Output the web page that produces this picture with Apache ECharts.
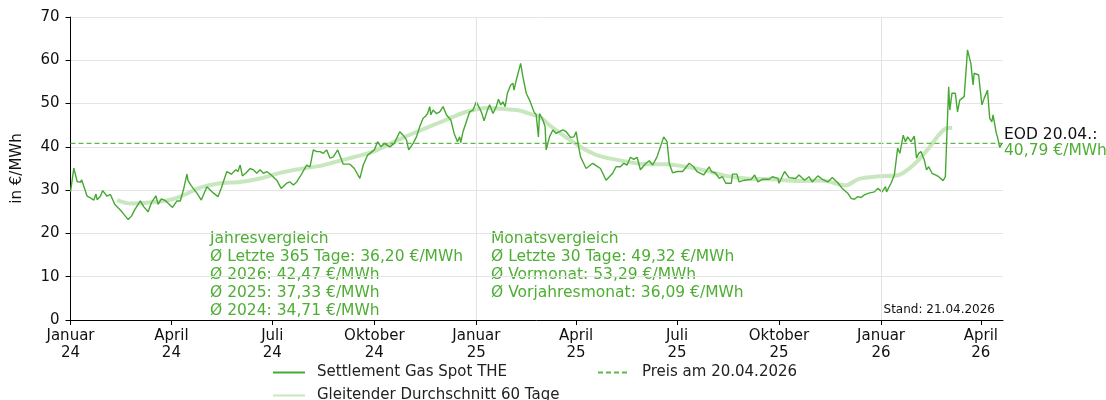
<!DOCTYPE html>
<html lang="de">
<head>
  <meta charset="utf-8">
</head>
<body style="margin: 0">
  <div id="container" style="width: 1106px; height: 400px"></div>
  <script src="https://cdn.jsdelivr.net/npm/echarts@6/dist/echarts.min.js"></script>
  <script type="text/javascript">
    // Settlement Gas Spot THE
    var priceDates = [
      '2024-01-01', '2024-01-04', '2024-01-07', '2024-01-10', '2024-01-11', '2024-01-13', '2024-01-16', '2024-01-19',
      '2024-01-22', '2024-01-24', '2024-01-25', '2024-01-28', '2024-01-30', '2024-02-03', '2024-02-06', '2024-02-10',
      '2024-02-16', '2024-02-22', '2024-02-25', '2024-02-28', '2024-03-04', '2024-03-07', '2024-03-11', '2024-03-14',
      '2024-03-18', '2024-03-20', '2024-03-23', '2024-03-27', '2024-04-02', '2024-04-06', '2024-04-09', '2024-04-12',
      '2024-04-15', '2024-04-16', '2024-04-19', '2024-04-24', '2024-04-28', '2024-05-03', '2024-05-09', '2024-05-13',
      '2024-05-16', '2024-05-21', '2024-05-25', '2024-05-29', '2024-05-31', '2024-06-02', '2024-06-04', '2024-06-07',
      '2024-06-11', '2024-06-14', '2024-06-17', '2024-06-20', '2024-06-23', '2024-06-26', '2024-06-30', '2024-07-05',
      '2024-07-09', '2024-07-14', '2024-07-17', '2024-07-20', '2024-07-23', '2024-07-26', '2024-08-01', '2024-08-04',
      '2024-08-07', '2024-08-10', '2024-08-13', '2024-08-16', '2024-08-19', '2024-08-22', '2024-08-25', '2024-08-29',
      '2024-09-03', '2024-09-09', '2024-09-13', '2024-09-18', '2024-09-21', '2024-09-25', '2024-10-01', '2024-10-04',
      '2024-10-07', '2024-10-10', '2024-10-15', '2024-10-19', '2024-10-24', '2024-10-27', '2024-10-30', '2024-11-01',
      '2024-11-05', '2024-11-08', '2024-11-11', '2024-11-14', '2024-11-16', '2024-11-18', '2024-11-20', '2024-11-21',
      '2024-11-23', '2024-11-26', '2024-11-29', '2024-12-02', '2024-12-05', '2024-12-09', '2024-12-12', '2024-12-15',
      '2024-12-17', '2024-12-18', '2024-12-20', '2024-12-23', '2024-12-26', '2024-12-29', '2025-01-01', '2025-01-04',
      '2025-01-06', '2025-01-08', '2025-01-11', '2025-01-13', '2025-01-16', '2025-01-19', '2025-01-21', '2025-01-23',
      '2025-01-25', '2025-01-27', '2025-01-29', '2025-02-01', '2025-02-03', '2025-02-04', '2025-02-06', '2025-02-10',
      '2025-02-12', '2025-02-15', '2025-02-18', '2025-02-19', '2025-02-22', '2025-02-24', '2025-02-26', '2025-02-27',
      '2025-03-02', '2025-03-04', '2025-03-05', '2025-03-08', '2025-03-11', '2025-03-14', '2025-03-17', '2025-03-20',
      '2025-03-23', '2025-03-27', '2025-03-30', '2025-04-01', '2025-04-03', '2025-04-05', '2025-04-10', '2025-04-16',
      '2025-04-20', '2025-04-23', '2025-04-28', '2025-05-04', '2025-05-07', '2025-05-11', '2025-05-14', '2025-05-17',
      '2025-05-20', '2025-05-23', '2025-05-26', '2025-05-29', '2025-06-03', '2025-06-06', '2025-06-09', '2025-06-13',
      '2025-06-16', '2025-06-19', '2025-06-22', '2025-06-24', '2025-06-27', '2025-07-01', '2025-07-06', '2025-07-12',
      '2025-07-16', '2025-07-19', '2025-07-25', '2025-07-30', '2025-08-01', '2025-08-05', '2025-08-08', '2025-08-11',
      '2025-08-14', '2025-08-19', '2025-08-20', '2025-08-24', '2025-08-26', '2025-08-31', '2025-09-06', '2025-09-09',
      '2025-09-12', '2025-09-16', '2025-09-22', '2025-09-25', '2025-09-30', '2025-10-01', '2025-10-06', '2025-10-10',
      '2025-10-16', '2025-10-19', '2025-10-24', '2025-10-28', '2025-10-31', '2025-11-05', '2025-11-09', '2025-11-14',
      '2025-11-18', '2025-11-23', '2025-11-27', '2025-12-02', '2025-12-05', '2025-12-08', '2025-12-11', '2025-12-14',
      '2025-12-17', '2025-12-21', '2025-12-26', '2025-12-29', '2026-01-02', '2026-01-05', '2026-01-06', '2026-01-10',
      '2026-01-13', '2026-01-16', '2026-01-18', '2026-01-21', '2026-01-23', '2026-01-25', '2026-01-28', '2026-01-31',
      '2026-02-02', '2026-02-04', '2026-02-06', '2026-02-09', '2026-02-11', '2026-02-13', '2026-02-16', '2026-02-19',
      '2026-02-22', '2026-02-26', '2026-02-28', '2026-03-03', '2026-03-04', '2026-03-06', '2026-03-09', '2026-03-11',
      '2026-03-13', '2026-03-17', '2026-03-20', '2026-03-23', '2026-03-25', '2026-03-26', '2026-03-30', '2026-04-02',
      '2026-04-04', '2026-04-07', '2026-04-09', '2026-04-11', '2026-04-12', '2026-04-15', '2026-04-16', '2026-04-18',
      '2026-04-20'
    ];
    var priceValues = [
      29.6, 35.1, 32.0, 31.8, 32.4, 30.9, 28.6, 28.2,
      27.7, 29.1, 27.8, 28.6, 29.9, 28.6, 29.0, 26.7,
      25.1, 23.2, 24.0, 25.5, 27.5, 26.2, 25.0, 27.1,
      28.7, 26.7, 28.0, 27.5, 26.0, 27.5, 27.5, 30.2,
      33.7, 32.2, 31.0, 29.3, 27.7, 30.8, 29.3, 28.5,
      30.5, 34.3, 33.7, 34.7, 34.3, 35.8, 33.3, 33.9,
      35.0, 34.7, 33.9, 34.7, 33.9, 34.3, 33.5, 32.3,
      30.4, 31.6, 31.9, 31.2, 31.9, 33.1, 35.8, 35.4,
      39.3, 38.9, 38.9, 38.5, 39.3, 37.4, 37.7, 39.3,
      36.0, 36.0, 35.0, 32.7, 35.8, 38.1, 39.3, 41.2,
      40.0, 40.8, 40.0, 40.8, 43.5, 42.7, 41.6, 39.3,
      40.8, 42.3, 44.7, 46.6, 47.0, 47.7, 49.3, 47.4,
      48.5, 47.7, 48.1, 49.3, 47.4, 46.2, 43.1, 41.2,
      42.3, 41.0, 43.5, 45.8, 48.1, 48.5, 50.4, 48.9,
      47.7, 46.0, 48.5, 49.7, 47.7, 49.3, 51.0, 49.7,
      50.4, 49.3, 52.4, 54.3, 54.7, 53.1, 55.4, 59.3,
      56.2, 52.4, 50.8, 51.2, 48.1, 47.4, 42.3, 47.7,
      46.2, 44.7, 39.3, 42.3, 43.9, 43.1, 43.5, 43.9,
      43.5, 42.2, 42.3, 43.5, 40.4, 37.7, 35.0, 36.2,
      35.5, 35.0, 32.3, 33.9, 35.4, 35.4, 36.2, 35.8,
      37.6, 37.1, 37.6, 34.7, 36.2, 36.8, 35.8, 37.7,
      40.0, 42.3, 41.2, 36.2, 34.0, 34.3, 34.3, 36.2,
      35.4, 34.3, 33.5, 35.4, 34.3, 33.9, 32.7, 33.1,
      31.6, 31.6, 33.7, 33.7, 31.9, 32.3, 32.5, 33.5,
      31.9, 32.5, 32.5, 33.1, 32.7, 31.6, 34.3, 32.9,
      32.7, 33.5, 32.3, 33.1, 31.9, 33.3, 32.5, 31.9,
      32.9, 31.7, 30.4, 29.3, 28.1, 27.9, 28.5, 28.3,
      28.9, 29.3, 29.6, 30.4, 29.6, 30.8, 29.6, 31.6,
      33.5, 39.7, 38.5, 42.7, 41.2, 42.3, 41.2, 42.5,
      37.4, 38.5, 38.9, 37.0, 34.7, 35.4, 33.9, 33.5,
      33.1, 32.2, 33.1, 53.9, 48.5, 52.4, 52.4, 48.1,
      50.8, 51.6, 62.4, 59.3, 54.3, 57.0, 56.6, 49.7,
      51.2, 53.1, 46.6, 45.8, 47.4, 43.1, 42.3, 39.9,
      40.79
    ];

    // Gleitender Durchschnitt 60 Tage
    var maDates = [
      '2024-02-12', '2024-02-24', '2024-03-10', '2024-03-28', '2024-04-09', '2024-04-27', '2024-05-15', '2024-06-02',
      '2024-06-20', '2024-07-08', '2024-07-26', '2024-08-13', '2024-08-25', '2024-09-12', '2024-09-30', '2024-10-24',
      '2024-11-23', '2024-12-08', '2024-12-23', '2025-01-10', '2025-01-28', '2025-02-09', '2025-02-21', '2025-02-27',
      '2025-03-08', '2025-03-23', '2025-04-07', '2025-04-22', '2025-05-16', '2025-06-03', '2025-06-21', '2025-07-09',
      '2025-07-27', '2025-08-14', '2025-09-01', '2025-09-25', '2025-10-19', '2025-11-09', '2025-11-30', '2025-12-12',
      '2025-12-30', '2026-01-17', '2026-01-25', '2026-02-04', '2026-02-13', '2026-02-22', '2026-03-01', '2026-03-06'
    ];
    var maValues = [
      27.7, 26.9, 27.1, 27.6, 28.5, 30.6, 31.6, 31.9,
      32.7, 34.0, 34.9, 35.6, 36.4, 37.6, 38.9, 41.8,
      45.0, 46.6, 48.1, 49.0, 48.7, 48.4, 47.4, 47.0,
      45.0, 42.2, 39.7, 37.9, 36.6, 36.0, 36.0, 35.4,
      34.5, 33.3, 32.7, 32.5, 32.1, 32.2, 31.1, 32.6,
      33.2, 33.5, 34.7, 37.0, 39.7, 42.7, 44.3, 44.4
    ];

    var currentPrice = 40.79;
    var axisStart = '2024-01-01';
    var axisEnd = '2026-04-21';
    var tickDates = [
      '2024-01-01', '2024-04-01', '2024-07-01', '2024-10-01', '2025-01-01', '2025-04-01',
      '2025-07-01', '2025-10-01', '2026-01-01', '2026-04-01'
    ];
    var yearStarts = ['2025-01-01', '2026-01-01'];
    var monthNames = ['Januar', 'Februar', 'März', 'April', 'Mai', 'Juni', 'Juli',
      'August', 'September', 'Oktober', 'November', 'Dezember'];

    var yearlyText = [
      'Jahresvergleich',
      'Ø Letzte 365 Tage: 36,20 €/MWh',
      'Ø 2026: 42,47 €/MWh',
      'Ø 2025: 37,33 €/MWh',
      'Ø 2024: 34,71 €/MWh'
    ];
    var monthlyText = [
      'Monatsvergleich',
      'Ø Letzte 30 Tage: 49,32 €/MWh',
      'Ø Vormonat: 53,29 €/MWh',
      'Ø Vorjahresmonat: 36,09 €/MWh'
    ];

    var font = 'DejaVu Sans';
    var green = '#46a832';
    var textGreen = '#4eae34';
    var maColor = '#c9e7bf';
    var dashColor = '#5fb94a';

    function toTime(s) {
      var p = s.split('-');
      return new Date(+p[0], +p[1] - 1, +p[2]).getTime();
    }
    function zip(a, b) {
      return a.map(function (d, i) { return [d, b[i]]; });
    }
    function legendAt(left, top, name) {
      // line sample only: the symbol of the legend icon is made invisible
      return {
        left: left, top: top, padding: 0, itemWidth: 32, itemHeight: 12,
        itemStyle: { opacity: 0 },
        textStyle: { fontFamily: font, fontSize: 15, color: '#222', padding: [0, 0, 0, 7] },
        data: [name]
      };
    }

    var dom = document.getElementById('container');
    var myChart = echarts.init(dom, null, { renderer: 'canvas' });

    var tickTimes = tickDates.map(toTime);

    var option = {
      animation: false,
      textStyle: { fontFamily: font },
      grid: { left: 70.5, right: 103, top: 17, bottom: 80, containLabel: false },
      legend: [
        legendAt(272, 365, 'Settlement Gas Spot THE'),
        legendAt(272, 388, 'Gleitender Durchschnitt 60 Tage'),
        legendAt(597, 365, 'Preis am 20.04.2026')
      ],
      xAxis: {
        // plain value axis on timestamps, so the quarter ticks can be set exactly
        type: 'value',
        min: toTime(axisStart),
        max: toTime(axisEnd),
        axisLine: { show: true, lineStyle: { color: '#000', width: 1 } },
        axisTick: { show: true, length: 5, customValues: tickTimes, lineStyle: { color: '#000' } },
        axisLabel: {
          customValues: tickTimes,
          fontFamily: font, fontSize: 15, color: '#111', lineHeight: 17, margin: 8,
          formatter: function (v) {
            var d = new Date(v);
            return monthNames[d.getMonth()] + '\n' + String(d.getFullYear()).slice(2);
          }
        },
        splitLine: { show: false }
      },
      yAxis: {
        type: 'value',
        min: 0, max: 70, interval: 10,
        name: 'in €/MWh', nameLocation: 'middle', nameGap: 46,
        nameTextStyle: { fontFamily: font, fontSize: 15, color: '#111' },
        axisLine: { show: true, lineStyle: { color: '#000', width: 1 } },
        axisTick: { show: true, length: 5, lineStyle: { color: '#000' } },
        axisLabel: { fontFamily: font, fontSize: 15, color: '#111', margin: 11 },
        splitLine: { show: true, lineStyle: { color: '#e4e4e4', width: 1 } }
      },
      series: [
        {
          name: 'Gleitender Durchschnitt 60 Tage',
          type: 'line',
          data: zip(maDates.map(toTime), maValues),
          symbol: 'none',
          smooth: 0.3,
          color: maColor,
          lineStyle: { color: maColor, width: 4 },
          z: 2,
          markLine: {
            silent: true, symbol: 'none', label: { show: false },
            lineStyle: { color: '#e2e2e2', width: 1, type: 'solid' },
            data: yearStarts.map(function (d) { return { xAxis: toTime(d) }; })
          }
        },
        {
          name: 'Preis am 20.04.2026',
          type: 'line',
          data: [[toTime(axisStart), currentPrice], [toTime(axisEnd), currentPrice]],
          symbol: 'none',
          color: dashColor,
          lineStyle: { color: dashColor, width: 1.2, type: [5, 3] },
          z: 3
        },
        {
          name: 'Settlement Gas Spot THE',
          type: 'line',
          data: zip(priceDates.map(toTime), priceValues),
          symbol: 'none',
          color: green,
          lineStyle: { color: green, width: 1.4 },
          z: 4
        }
      ],
      graphic: [
        {
          type: 'text', left: 210, top: 230,
          style: { text: yearlyText.join('\n'), font: '15.5px "DejaVu Sans"', fill: textGreen, lineHeight: 18 }
        },
        {
          type: 'text', left: 491, top: 230,
          style: { text: monthlyText.join('\n'), font: '15.5px "DejaVu Sans"', fill: textGreen, lineHeight: 18 }
        },
        {
          type: 'text', left: 1004, top: 127,
          style: { text: 'EOD 20.04.:', font: '15.5px "DejaVu Sans"', fill: '#111' }
        },
        {
          type: 'text', left: 1004, top: 143,
          style: { text: currentPrice.toFixed(2).replace('.', ',') + ' €/MWh', font: '15.5px "DejaVu Sans"', fill: textGreen }
        },
        {
          type: 'text', right: 111, top: 304,
          style: { text: 'Stand: 21.04.2026', font: '12px "DejaVu Sans"', fill: '#111' }
        }
      ]
    };

    myChart.setOption(option);
    window.addEventListener('resize', myChart.resize);
  </script>
</body>
</html>
